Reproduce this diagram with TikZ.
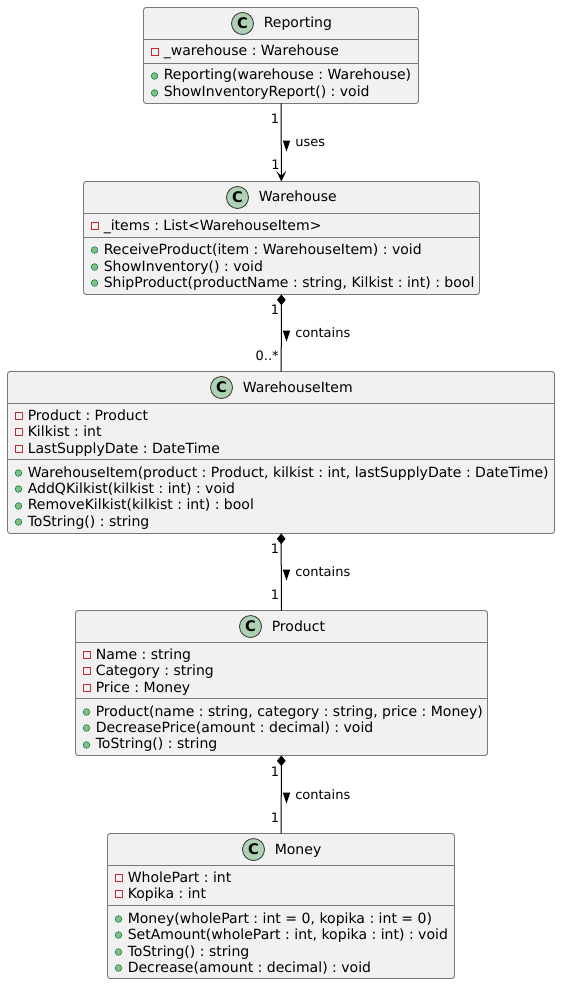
\documentclass[tikz,border=0pt]{standalone}
\usepackage{fontspec}
\setmainfont{DejaVu Sans}
\usetikzlibrary{arrows.meta,shapes.geometric}
\frenchspacing
\definecolor{boxfill}{RGB}{241,241,241}
\definecolor{boxline}{RGB}{120,120,120}
\definecolor{headfill}{RGB}{173,209,178}
\definecolor{privcolor}{RGB}{200,41,48}
\definecolor{pubfill}{RGB}{132,190,132}
\definecolor{publine}{RGB}{3,128,72}
\tikzset{
	classbox/.style={draw=boxline, fill=boxfill, rounded corners=2pt, line width=0.7pt, inner sep=0pt, outer sep=0pt},
	sepline/.style={draw=boxline, line width=0.7pt},
	headmark/.style={circle, draw=black!80, fill=headfill, line width=0.6pt, minimum size=16.5pt, inner sep=0pt, font=\fontsize{11}{11}\selectfont\bfseries},
	headtext/.style={anchor=base west, inner sep=0pt, font=\fontsize{10.53}{12}\selectfont},
	member/.style={anchor=base west, inner sep=0pt, font=\fontsize{10.53}{12}\selectfont},
	privmark/.style={draw=privcolor, line width=0.5pt, minimum size=5pt, inner sep=0pt},
	pubmark/.style={circle, draw=publine, fill=pubfill, line width=0.4pt, minimum size=5pt, inner sep=0pt},
	relline/.style={draw=black, line width=0.75pt},
	multi/.style={anchor=base east, inner sep=0pt, font=\fontsize{9.75}{11}\selectfont},
	rellabel/.style={anchor=base west, inner sep=0pt, font=\fontsize{9.75}{11}\selectfont},
	dirmark/.style={isosceles triangle, isosceles triangle stretches, shape border rotate=-90, fill=black, minimum height=8.25pt, minimum width=5.5pt, inner sep=0pt},
	comptip/.tip={Diamond[length=8pt, width=6.5pt]},
	usetip/.tip={Stealth[length=8pt, width=7.5pt, inset=3.75pt]},
}
\begin{document}
\begin{tikzpicture}[x=0.75pt, y=-0.75pt]
	\useasboundingbox (0,0) rectangle (560,984);
	% Reporting
	\node[classbox, minimum width=206.25pt, minimum height=72pt] (reporting) at (281,55.5) {};
	\draw[sepline] (143.5,39.5) -- (418.5,39.5);
	\draw[sepline] (143.5,63.5) -- (418.5,63.5);
	\node[headmark] (reportinghead) at (242.5,23.5) {C};
	\node[headtext] (reportingname) at (263.5,28) {Reporting};
	\node[privmark] (rpf1) at (154.5,52) {};
	\node[member] (rpt1) at (163.5,56) {\_warehouse : Warehouse};
	\node[pubmark] (rpm1) at (154.5,76) {};
	\node[member] (rpt2) at (163.5,80) {Reporting(warehouse : Warehouse)};
	\node[pubmark] (rpm2) at (154.5,93) {};
	\node[member] (rpt3) at (163.5,97) {ShowInventoryReport() : void};
	% Warehouse
	\node[classbox, minimum width=297pt, minimum height=84.75pt] (warehouse) at (281.5,238) {};
	\draw[sepline] (83.5,213.5) -- (479.5,213.5);
	\draw[sepline] (83.5,237.5) -- (479.5,237.5);
	\node[headmark] (warehousehead) at (237.5,197.5) {C};
	\node[headtext] (warehousename) at (258.5,202) {Warehouse};
	\node[privmark] (whf1) at (94.5,226) {};
	\node[member] (wht1) at (103.5,230) {\_items : List<WarehouseItem>};
	\node[pubmark] (whm1) at (94.5,250) {};
	\node[member] (wht2) at (103.5,254) {ReceiveProduct(item : WarehouseItem) : void};
	\node[pubmark] (whm2) at (94.5,267) {};
	\node[member] (wht3) at (103.5,271) {ShowInventory() : void};
	\node[pubmark] (whm3) at (94.5,283) {};
	\node[member] (wht4) at (103.5,287) {ShipProduct(productName : string, Kilkist : int) : bool};
	% WarehouseItem
	\node[classbox, minimum width=410.25pt, minimum height=121.5pt] (warehouseitem) at (281,452.5) {};
	\draw[sepline] (7.5,403.5) -- (554.5,403.5);
	\draw[sepline] (7.5,459.5) -- (554.5,459.5);
	\node[headmark] (itemhead) at (221.5,387.5) {C};
	\node[headtext] (itemname) at (242.5,392) {WarehouseItem};
	\node[privmark] (itf1) at (18.5,416) {};
	\node[member] (itt1) at (27.5,420) {Product : Product};
	\node[privmark] (itf2) at (18.5,432) {};
	\node[member] (itt2) at (27.5,436) {Kilkist : int};
	\node[privmark] (itf3) at (18.5,449) {};
	\node[member] (itt3) at (27.5,453) {LastSupplyDate : DateTime};
	\node[pubmark] (itm1) at (18.5,473) {};
	\node[member] (itt4) at (27.5,477) {WarehouseItem(product : Product, kilkist : int, lastSupplyDate : DateTime)};
	\node[pubmark] (itm2) at (18.5,489) {};
	\node[member] (itt5) at (27.5,493) {AddQKilkist(kilkist : int) : void};
	\node[pubmark] (itm3) at (18.5,506) {};
	\node[member] (itt6) at (27.5,509) {RemoveKilkist(kilkist : int) : bool};
	\node[pubmark] (itm4) at (18.5,522) {};
	\node[member] (itt7) at (27.5,526) {ToString() : string};
	% Product
	\node[classbox, minimum width=309pt, minimum height=108.75pt] (product) at (281.5,683) {};
	\draw[sepline] (75.5,642.5) -- (487.5,642.5);
	\draw[sepline] (75.5,698.5) -- (487.5,698.5);
	\node[headmark] (producthead) at (250.5,626.5) {C};
	\node[headtext] (productname) at (271.5,631) {Product};
	\node[privmark] (prf1) at (86.5,655) {};
	\node[member] (prt1) at (95.5,659) {Name : string};
	\node[privmark] (prf2) at (86.5,671) {};
	\node[member] (prt2) at (95.5,675) {Category : string};
	\node[privmark] (prf3) at (86.5,688) {};
	\node[member] (prt3) at (95.5,692) {Price : Money};
	\node[pubmark] (prm1) at (86.5,712) {};
	\node[member] (prt4) at (95.5,716) {Product(name : string, category : string, price : Money)};
	\node[pubmark] (prm2) at (86.5,728) {};
	\node[member] (prt5) at (95.5,732) {DecreasePrice(amount : decimal) : void};
	\node[pubmark] (prm3) at (86.5,745) {};
	\node[member] (prt6) at (95.5,748.5) {ToString() : string};
	% Money
	\node[classbox, minimum width=260.25pt, minimum height=108.75pt] (money) at (281,906) {};
	\draw[sepline] (107.5,865.5) -- (454.5,865.5);
	\draw[sepline] (107.5,905.5) -- (454.5,905.5);
	\node[headmark] (moneyhead) at (253.5,849.5) {C};
	\node[headtext] (moneyname) at (274.5,854) {Money};
	\node[privmark] (mof1) at (118.5,878) {};
	\node[member] (mot1) at (127.5,882) {WholePart : int};
	\node[privmark] (mof2) at (118.5,894) {};
	\node[member] (mot2) at (127.5,898) {Kopika : int};
	\node[pubmark] (mom1) at (118.5,919) {};
	\node[member] (mot3) at (127.5,923) {Money(wholePart : int = 0, kopika : int = 0)};
	\node[pubmark] (mom2) at (118.5,935) {};
	\node[member] (mot4) at (127.5,939) {SetAmount(wholePart : int, kopika : int) : void};
	\node[pubmark] (mom3) at (118.5,952) {};
	\node[member] (mot5) at (127.5,956) {ToString() : string};
	\node[pubmark] (mom4) at (118.5,968) {};
	\node[member] (mot6) at (127.5,972) {Decrease(amount : decimal) : void};
	% Relations
	\draw[relline, -usetip] (reporting) -- (warehouse);
	\draw[relline, comptip-] (warehouse) -- (warehouseitem);
	\draw[relline, comptip-] (warehouseitem) -- (product);
	\draw[relline, comptip-] (product) -- (money);
	% Relation labels
	\node[multi] (ml1) at (279.5,124) {1};
	\node[multi] (ml2) at (280,170) {1};
	\node[dirmark] (dm1) at (286.5,143.3) {};
	\node[rellabel] (rl1) at (295,147) {uses};
	\node[multi] (ml3) at (279.5,314) {1};
	\node[multi] (ml4) at (279,360) {0..*};
	\node[dirmark] (dm2) at (286.5,333.3) {};
	\node[rellabel] (rl2) at (295,337) {contains};
	\node[multi] (ml5) at (279.5,553.5) {1};
	\node[multi] (ml6) at (279.5,599) {1};
	\node[dirmark] (dm3) at (286.5,572.2) {};
	\node[rellabel] (rl3) at (295,576) {contains};
	\node[multi] (ml7) at (279.5,776) {1};
	\node[multi] (ml8) at (279.5,822) {1};
	\node[dirmark] (dm4) at (286.5,795.3) {};
	\node[rellabel] (rl4) at (295,799) {contains};
\end{tikzpicture}
\end{document}
